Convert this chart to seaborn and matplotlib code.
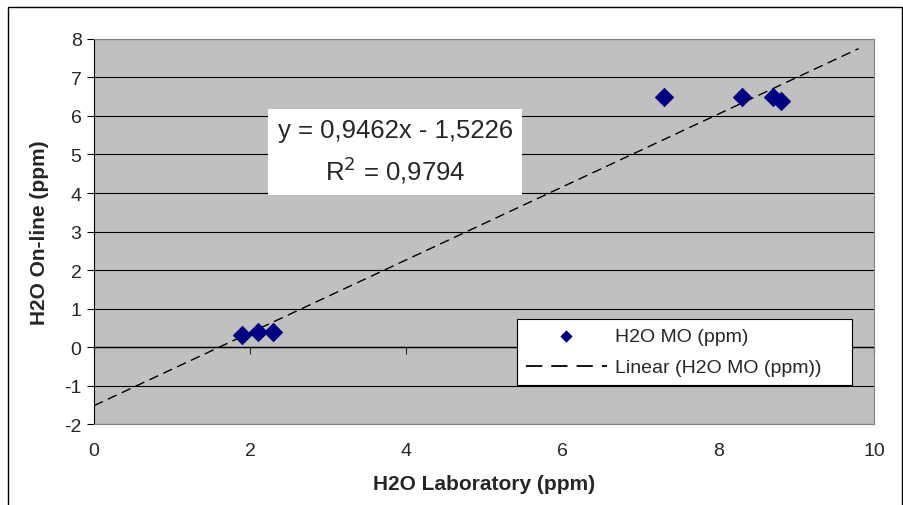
import numpy as np
import pandas as pd
import matplotlib.pyplot as plt
import seaborn as sns
from matplotlib.patches import Rectangle

# data
lab_ppm = [1.9, 2.1, 2.3, 7.3, 8.3, 8.7, 8.8]
online_ppm = [0.3, 0.4, 0.4, 6.5, 6.5, 6.5, 6.4]
slope = 0.9462
intercept = -1.5226
r_squared = 0.9794
trend_x = [0, 9.8]

sns.set_style('white')
plt.rcParams['font.family'] = ['Liberation Sans', 'DejaVu Sans']
plt.rcParams['axes.unicode_minus'] = False

df = pd.DataFrame({'lab': lab_ppm, 'online': online_ppm})
trend = pd.DataFrame({'x': trend_x})
trend['y'] = slope * trend['x'] + intercept

fig = plt.figure(figsize=(9.04, 5.06), dpi=100)
ax = fig.add_axes([0.104, 0.160, 0.863, 0.761])
ax.set_facecolor('#C0C0C0')

# outer chart border
fig.patches.append(Rectangle((8/904, -0.05), 894/904, 1.05 - 8/506, transform=fig.transFigure,
                             fill=False, edgecolor='black', linewidth=1))

sns.lineplot(data=trend, x='x', y='y', ax=ax, color='black', linewidth=1,
             dashes=False, label='Linear (H2O MO (ppm))', zorder=3)
ax.lines[-1].set_dashes([7, 4])
sns.scatterplot(data=df, x='lab', y='online', ax=ax, marker='D', s=85,
                color='#000080', edgecolor='#000080', label='H2O MO (ppm)', zorder=4)

ax.set_xlim(0, 10)
ax.set_ylim(-2, 8)
ax.set_yticks(range(-2, 9))
ax.set_xticks(range(0, 11, 2))
ax.yaxis.grid(True, color='black', linewidth=0.8)
ax.set_axisbelow(True)

for s in ['top', 'right', 'bottom']:
    ax.spines[s].set_color('#808080')
ax.spines['left'].set_color('black')
ax.axhline(0, color='black', linewidth=1, zorder=2)

ax.tick_params(axis='y', direction='out', length=5, width=0.8, color='black',
               labelsize=14, left=True, pad=4)
ax.tick_params(axis='x', length=0, labelsize=14, pad=13)
sec = ax.secondary_xaxis(0.2)
sec.set_xticks(range(0, 11, 2))
sec.tick_params(axis='x', direction='out', length=5, width=0.8, labelbottom=False)
sec.spines['bottom'].set_visible(False)

ax.set_xlabel('H2O Laboratory (ppm)', fontsize=15, fontweight='bold', labelpad=11)
ax.set_ylabel('H2O On-line (ppm)', fontsize=15, fontweight='bold', labelpad=11)

ax.text(3.86, 5.07, 'y = 0,9462x - 1,5226\nR$^2$ = 0,9794', ha='center', va='center',
        fontsize=18.5, linespacing=1.45,
        bbox=dict(facecolor='white', edgecolor='none', boxstyle='square,pad=0.38'))

handles, labels = ax.get_legend_handles_labels()
leg = ax.legend(handles[::-1], labels[::-1], loc='lower left',
                bbox_to_anchor=(0.542, 0.101, 0.43, 0.19), mode='expand',
                fontsize=14, frameon=True, fancybox=False, framealpha=1,
                edgecolor='black', handlelength=4.2, handletextpad=0.4,
                labelspacing=0.7, borderpad=0.45, markerscale=0.6,
                borderaxespad=0)
leg.get_frame().set_linewidth(0.8)
leg.get_lines()[-1].set_dashes([9, 5])
leg.get_lines()[-1].set_linewidth(1.3)

fig.savefig('out.png', dpi=100)
